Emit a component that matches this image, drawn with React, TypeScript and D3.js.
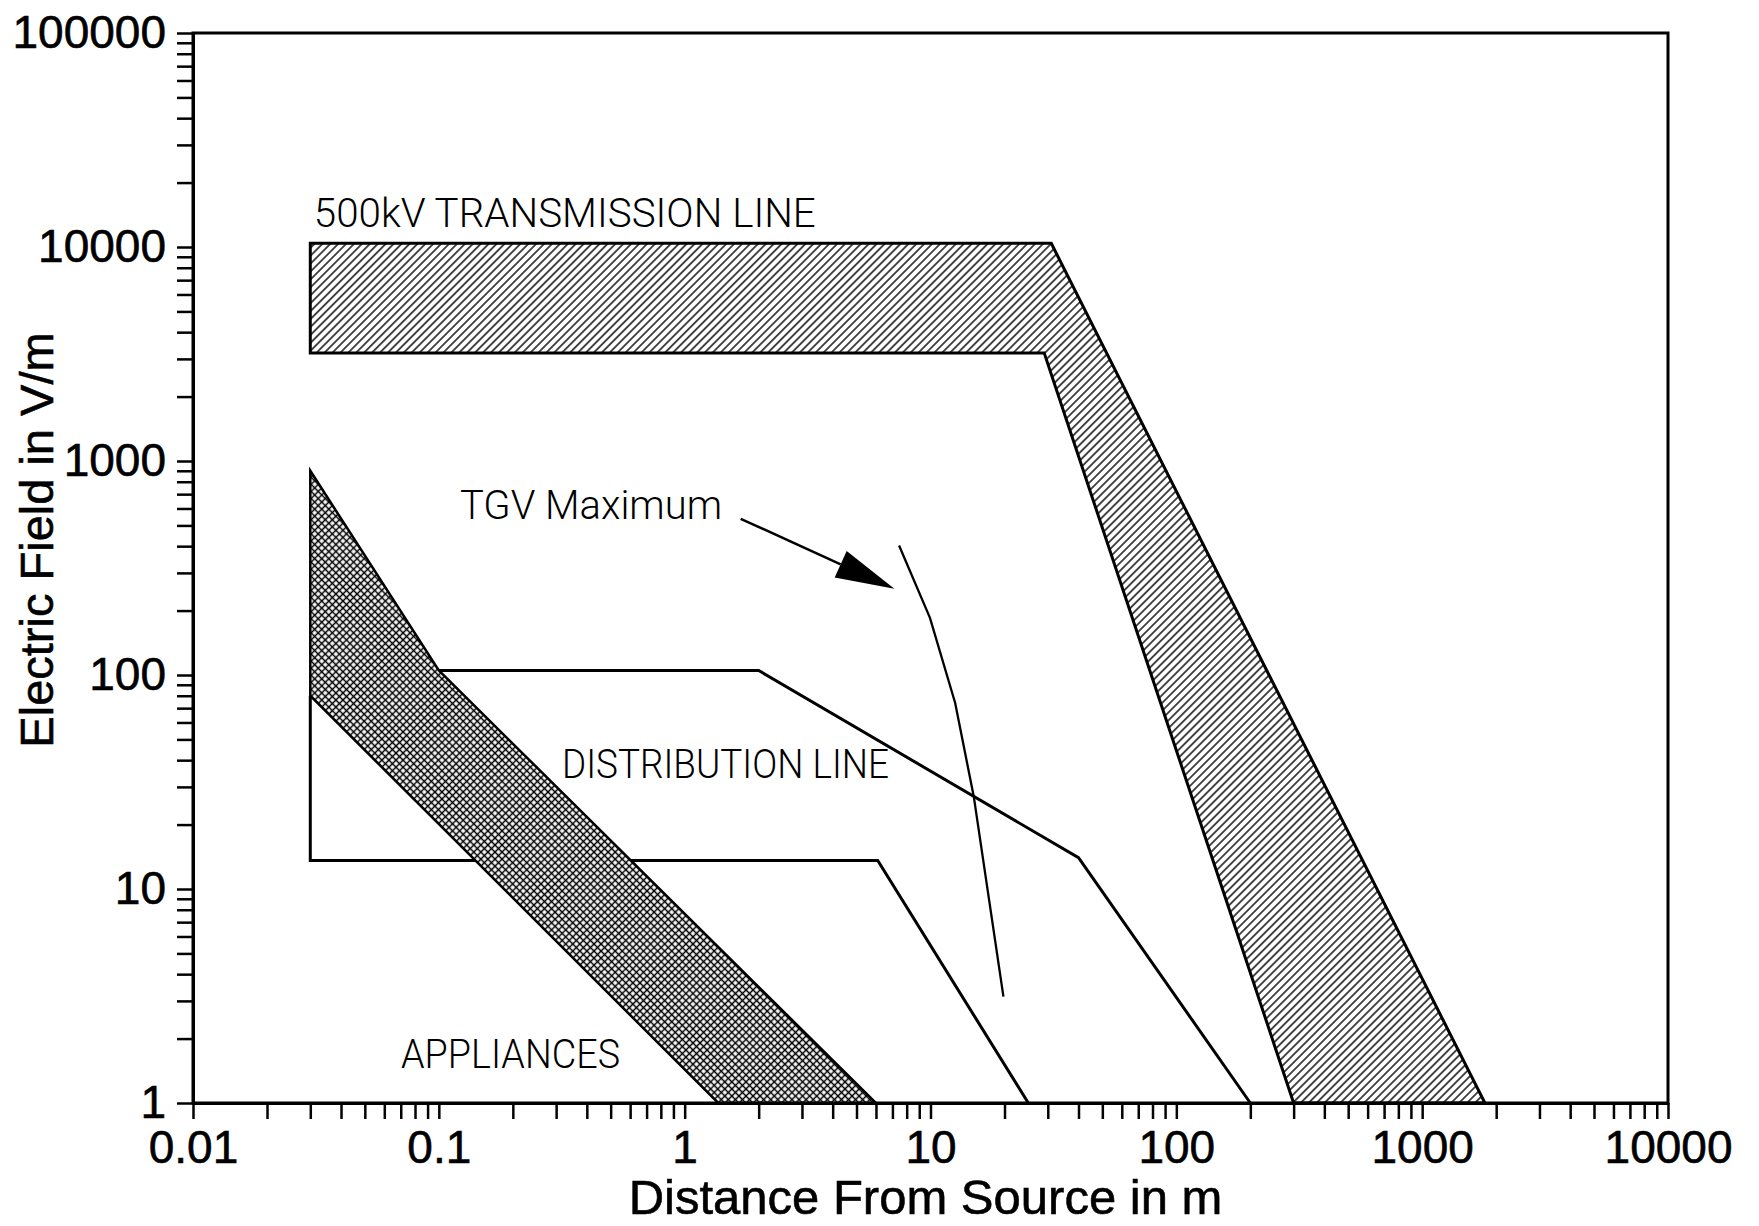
import React, { useEffect, useRef } from 'react';
import * as d3 from 'd3';

// distance (m) / field (V/m) pairs
const transmissionBand: [number, number][] = [
  [0.03, 10400], [31, 10400], [1800, 1], [300, 1], [29, 3200], [0.03, 3200],
];
const applianceBand: [number, number][] = [
  [0.03, 900], [0.1, 105], [6, 1], [1.37, 1], [0.03, 80],
];
const distributionUpper: [number, number][] = [
  [0.1, 105], [2, 105], [40, 14], [200, 1],
];
const distributionLower: [number, number][] = [
  [0.03, 80], [0.03, 13.6], [6.1, 13.6], [25, 1],
];
const tgvMaximum: [number, number][] = [
  [7.45, 403], [9.95, 185], [12.6, 74], [15, 27], [19.8, 3.14],
];
const tgvArrow: [number, number][] = [[1.69, 537], [7.13, 253]];

const xDomain = [0.01, 10000];
const yDomain = [1, 100000];

const labelText = ['500kV TRANSMISSION LINE', 'TGV Maximum', 'DISTRIBUTION LINE', 'APPLIANCES'];
const xTitle = 'Distance From Source in m';
const yTitle = 'Electric Field in V/m';

const W = 1759;
const H = 1226;

const App = () => {
  const svgRef = useRef<SVGSVGElement | null>(null);

  useEffect(() => {
    const root = d3.select(svgRef.current);
    root.selectAll('*').remove();

    const left = 193, right = 1668, top = 33, bottom = 1103;
    const x = d3.scaleLog().domain(xDomain).range([left, right]);
    const y = d3.scaleLog().domain(yDomain).range([bottom, top]);

    const defs = root.append('defs');
    const hatch = defs
      .append('pattern')
      .attr('id', 'hatch')
      .attr('patternUnits', 'userSpaceOnUse')
      .attr('width', 5.6)
      .attr('height', 5.6)
      .attr('patternTransform', 'rotate(45)');
    hatch.append('line').attr('x1', 2.8).attr('x2', 2.8).attr('y1', 0).attr('y2', 5.6)
      .attr('stroke', '#000').attr('stroke-width', 1.4);

    const cross = defs
      .append('pattern')
      .attr('id', 'cross')
      .attr('patternUnits', 'userSpaceOnUse')
      .attr('width', 5)
      .attr('height', 5)
      .attr('patternTransform', 'rotate(45)');
    cross.append('rect').attr('width', 5).attr('height', 5).attr('fill', '#fff');
    cross.append('line').attr('x1', 2.5).attr('x2', 2.5).attr('y1', 0).attr('y2', 5)
      .attr('stroke', '#000').attr('stroke-width', 1.5);
    cross.append('line').attr('y1', 2.5).attr('y2', 2.5).attr('x1', 0).attr('x2', 5)
      .attr('stroke', '#000').attr('stroke-width', 1.5);

    const line = d3.line<[number, number]>().x((d) => x(d[0])).y((d) => y(d[1]));
    const g = root.append('g');

    g.append('path')
      .attr('d', line(transmissionBand) + 'Z')
      .attr('fill', 'url(#hatch)')
      .attr('stroke', '#000')
      .attr('stroke-width', 3)
      .attr('stroke-linejoin', 'miter');

    [distributionUpper, distributionLower].forEach((pts) => {
      g.append('path')
        .attr('d', line(pts))
        .attr('fill', 'none')
        .attr('stroke', '#000')
        .attr('stroke-width', 3);
    });

    g.append('path')
      .attr('d', line(applianceBand) + 'Z')
      .attr('fill', 'url(#cross)')
      .attr('stroke', '#000')
      .attr('stroke-width', 2.5);

    g.append('path')
      .attr('d', line(tgvMaximum))
      .attr('fill', 'none')
      .attr('stroke', '#000')
      .attr('stroke-width', 2.3);

    // arrow pointing at the TGV curve
    const [tx0, ty0] = [x(tgvArrow[0][0]), y(tgvArrow[0][1])];
    const [tx1, ty1] = [x(tgvArrow[1][0]), y(tgvArrow[1][1])];
    const ang = Math.atan2(ty1 - ty0, tx1 - tx0);
    const headLen = 59, headHalf = 14.5;
    const bx = tx1 - headLen * Math.cos(ang);
    const by = ty1 - headLen * Math.sin(ang);
    g.append('line')
      .attr('x1', tx0).attr('y1', ty0).attr('x2', bx).attr('y2', by)
      .attr('stroke', '#000').attr('stroke-width', 2.5);
    g.append('polygon')
      .attr('points', [
        [tx1, ty1],
        [bx - headHalf * Math.sin(ang), by + headHalf * Math.cos(ang)],
        [bx + headHalf * Math.sin(ang), by - headHalf * Math.cos(ang)],
      ].map((p) => p.join(',')).join(' '))
      .attr('fill', '#000');

    // in-plot labels (left edge + baseline in data units, width in px)
    const labelPos: [number, number, number][] = [
      [0.031, 12400, 502],
      [0.122, 533, 262],
      [0.317, 33.1, 327],
      [0.0702, 1.46, 219],
    ];
    labelText.forEach((t, i) => {
      const [lx, ly, len] = labelPos[i];
      g.append('text')
        .attr('x', x(lx))
        .attr('y', y(ly))
        .attr('textLength', len)
        .attr('lengthAdjust', 'spacingAndGlyphs')
        .attr('font-family', 'Roboto, "Liberation Sans", sans-serif')
        .attr('font-weight', 300)
        .attr('font-size', 41)
        .attr('fill', '#000')
        .text(t);
    });

    const isMajor = (d: number) => Math.abs(Math.log10(d) - Math.round(Math.log10(d))) < 1e-9;
    const fmt = (d: d3.NumberValue) => (isMajor(+d) ? String(+d) : '');

    const xAxis = root
      .append('g')
      .attr('transform', `translate(0, ${bottom})`)
      .call(d3.axisBottom(x).tickValues(x.ticks()).tickFormat(fmt).tickSize(16).tickSizeOuter(0).tickPadding(11));
    const yAxis = root
      .append('g')
      .attr('transform', `translate(${left}, 0)`)
      .call(d3.axisLeft(y).tickValues(y.ticks()).tickFormat(fmt).tickSize(16).tickSizeOuter(0).tickPadding(11));

    [xAxis, yAxis].forEach((a) => {
      a.attr('font-family', '"Liberation Sans", Arial, sans-serif').attr('font-size', 46);
      a.selectAll('.tick text').attr('stroke', '#000').attr('stroke-width', 0.6);
      a.selectAll('.tick line').attr('stroke-width', 2.5);
      a.select('.domain').attr('stroke-width', 3);
    });

    // frame
    root.append('rect')
      .attr('x', left).attr('y', top)
      .attr('width', right - left).attr('height', bottom - top)
      .attr('fill', 'none').attr('stroke', '#000').attr('stroke-width', 3);

    root.append('text')
      .attr('x', (left + right) / 2 - 5)
      .attr('y', 1214)
      .attr('text-anchor', 'middle')
      .attr('font-family', '"Liberation Sans", Arial, sans-serif')
      .attr('font-size', 49)
      .attr('stroke', '#000')
      .attr('stroke-width', 0.6)
      .text(xTitle);

    root.append('text')
      .attr('transform', 'translate(53, 540) rotate(-90)')
      .attr('text-anchor', 'middle')
      .attr('font-family', '"Liberation Sans", Arial, sans-serif')
      .attr('font-size', 47)
      .attr('stroke', '#000')
      .attr('stroke-width', 0.6)
      .text(yTitle);
  }, []);

  return (
    <svg
      ref={svgRef}
      width={W}
      height={H}
      style={{ position: 'absolute', left: 0, top: 0, background: '#fff' }}
    ></svg>
  );
};

export default App;
